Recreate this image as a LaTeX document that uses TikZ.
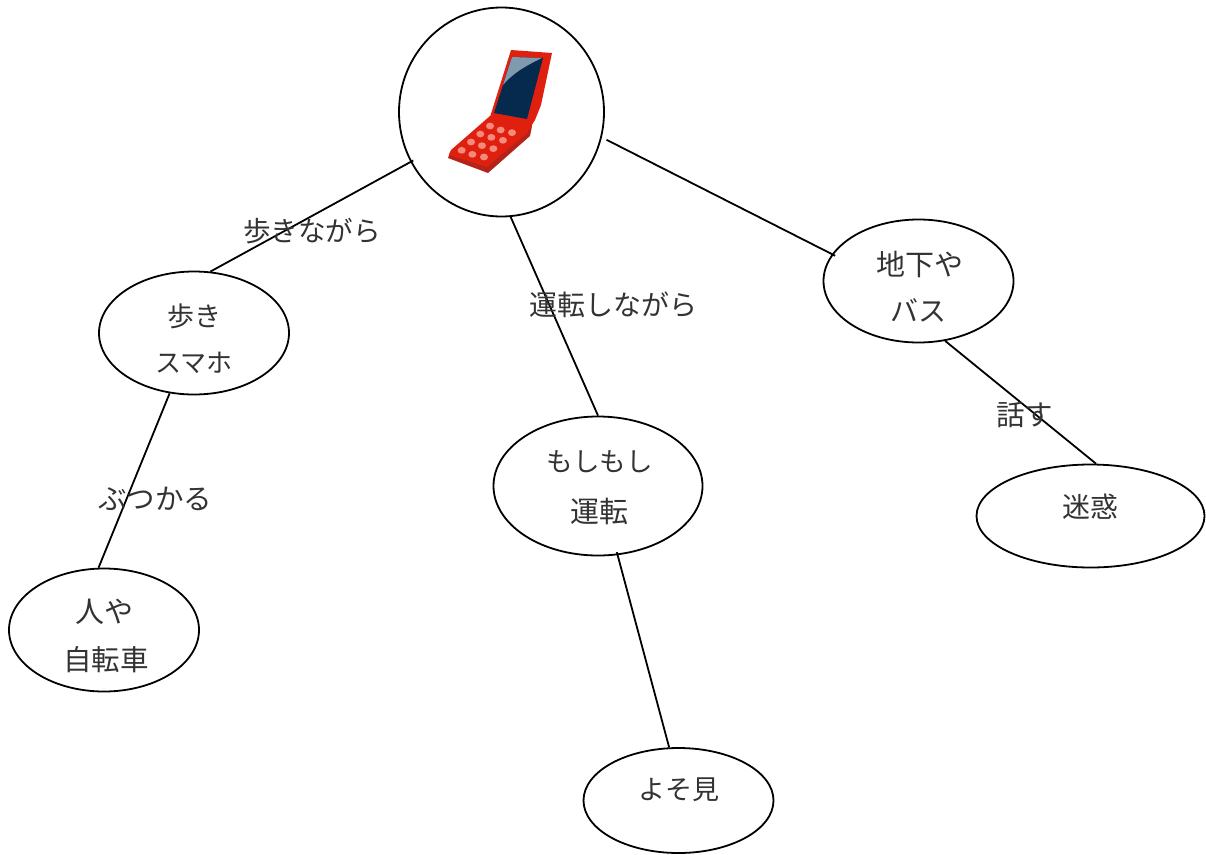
\documentclass[tikz,border=0pt]{standalone}
\usepackage{fontspec}
\usetikzlibrary{shapes.geometric,calc}
\setmainfont{Noto Sans CJK JP}
\definecolor{phonered}{HTML}{E0200F}
\definecolor{phonedark}{HTML}{B5221A}
\definecolor{screenblue}{HTML}{052A4E}
\definecolor{screenlight}{HTML}{7F9AAE}
\definecolor{keypink}{HTML}{F58A7C}
\definecolor{inktext}{HTML}{333333}
\tikzset{
  x=1pt,y=-1pt,
  bub/.style={draw=black,line width=1.8pt,ellipse,minimum width=#1,inner sep=0pt},
  conn/.style={draw=black,line width=1.8pt},
  jp/.style={text=inktext,inner sep=0pt,font=\fontsize{#1}{#1}\selectfont},
}
\begin{document}
\begin{tikzpicture}
\useasboundingbox (0,0) rectangle (1206,854);
% bubbles
\node[bub=205pt,minimum height=209pt] (root) at (501.5,112) {};
\node[bub=190pt,minimum height=123pt] (walk) at (194,333) {};
\node[bub=190pt,minimum height=123pt] (bike) at (104,630) {};
\node[bub=209pt,minimum height=139pt] (drive) at (598,486) {};
\node[bub=190pt,minimum height=105pt] (look) at (678.5,800.5) {};
\node[bub=190pt,minimum height=123pt] (subway) at (918.5,281) {};
\node[bub=228pt,minimum height=103pt] (annoy) at (1090.5,516) {};
% connectors
\draw[conn] ($(root.206)+(5,3)$) -- (walk.75);
\draw[conn] (root.275) -- (drive.90);
\draw[conn] ($(root.-15)+(5,1)$) -- ($(subway.163)+(3.5,1.3)$);
\draw[conn] (walk.248.5) -- (bike.95);
\draw[conn] ($(drive.-74.5)+(-1,-3)$) -- (look.100);
\draw[conn] (subway.-66.5) -- (annoy.84);
% phone
\fill[phonered] (511,50) -- (552,53) -- (541,105) -- (535,120) -- (530,128) -- (490,117) -- cycle;
\fill[phonedark] (490,117) -- (532,126) -- (530,136) -- (488,173) -- (448,158) -- (450,152) -- cycle;
\fill[phonered] (490,116) -- (532,125) -- (527,133) -- (487,167) -- (449,155) -- (451,150) -- cycle;
\fill[screenblue] (512,57) -- (543,58) -- (527,119) -- (494,113) -- cycle;
\fill[screenlight] (512,57) -- (542,58) .. controls (525,66) and (512,74) .. (503,85) -- cycle;
\foreach \kx/\ky in {180/288,212/300,246/308,151/312,184/322,219/331,123/336,156/347,190/356,95/361,127/373,162/381}
  \fill[keypink] ({430+\kx/3},{30+\ky/3}) ellipse [x radius=4,y radius=3.4];
% bubble texts
\node[jp=27] (t1a) at (194,316) {歩き};
\node[jp=26] (t1b) at (194,363) {スマホ};
\node[jp=29] (t2a) at (104,612) {人や};
\node[jp=28.5] (t2b) at (106,660) {自転車};
\node[jp=26.5] (t3a) at (599.5,462) {もしもし};
\node[jp=29] (t3b) at (599,511) {運転};
\node[jp=27] (t4) at (679,790) {よそ見};
\node[jp=29] (t5a) at (920,264) {地下や};
\node[jp=28] (t5b) at (918,310) {バス};
\node[jp=28] (t6) at (1090,507) {迷惑};
% edge labels
\node[jp=27.6] (l1) at (312,231) {歩きながら};
\node[jp=28] (l2) at (613,305) {運転しながら};
\node[jp=28.5] (l3) at (155,499) {ぶつかる};
\node[jp=28.5] (l4) at (1024.5,415) {話す};
\end{tikzpicture}
\end{document}
